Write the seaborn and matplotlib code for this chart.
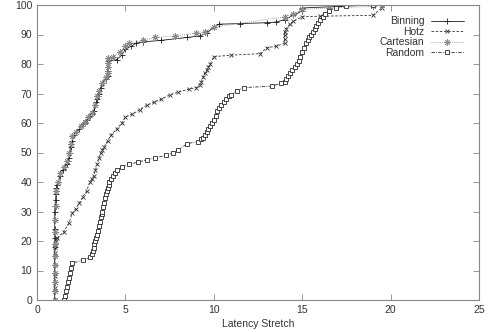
import numpy as np
import pandas as pd
import matplotlib
matplotlib.use("Agg")
import matplotlib.pyplot as plt
import seaborn as sns

# CDF of latency stretch
binning_x = [1.0, 1.0, 1.0, 1.0, 1.0, 1.0, 1.0, 1.0, 1.0, 1.0, 1.0, 1.02, 1.05, 1.08, 1.1,
             1.15, 1.2, 1.3, 1.45, 1.6, 1.7, 1.75, 1.8, 1.85, 1.9, 2.0, 2.1, 2.2, 2.4, 2.6,
             2.7, 2.8, 3.0, 3.1, 3.2, 3.3, 3.35, 3.4, 3.45, 3.5, 3.6, 3.75, 3.9, 4.0, 4.0,
             4.0, 4.0, 4.5, 4.8, 5.0, 5.3, 5.6, 6.0, 7.0, 8.5, 9.2, 9.6, 10.0, 10.3, 11.5,
             13.0, 13.5, 14.0, 14.5, 15.0, 15.0, 17.0, 19.0]
binning_y = [0, 3, 6, 9, 12, 15, 18, 21, 24, 27, 30, 32, 34, 36, 38,
             39, 40, 42, 44, 45, 46, 47, 48, 50, 52, 54, 56, 57, 58, 59.5,
             60, 61, 62.5, 63, 64, 66, 67, 68, 69, 70, 72, 73.5, 75, 76, 77.5,
             79, 81, 81.5, 83, 85, 86, 87, 87.5, 88, 89, 89.5, 90.5, 92.5, 93.5, 93.7,
             94, 94.2, 95, 96.5, 98, 99, 99.5, 100]

hotz_x = [1.0, 1.0, 1.0, 1.0, 1.0, 1.0, 1.05, 1.13, 1.5, 1.8, 2.0, 2.2, 2.4, 2.6, 2.8,
          3.0, 3.1, 3.2, 3.3, 3.4, 3.5, 3.6, 3.7, 3.8, 4.0, 4.2, 4.5, 4.8, 5.0, 5.4,
          5.8, 6.2, 6.6, 7.0, 7.5, 8.0, 8.6, 9.0, 9.2, 9.3, 9.4, 9.5, 9.6, 9.7, 9.8,
          10.0, 11.0, 12.6, 13.0, 13.5, 14.0, 14.0, 14.0, 14.0, 14.1, 14.3, 14.5, 15.0,
          16.0, 19.0, 19.5]
hotz_y = [0, 4, 8, 12, 16, 18, 20, 21, 23, 26, 29.5, 31, 33, 35, 37,
          40, 41, 42, 44, 46, 48, 50, 51, 52, 54, 56, 58, 60, 62, 63,
          64.5, 66, 67, 68, 69.5, 70.5, 71.5, 72, 73, 74, 75.5, 77, 78, 79, 80,
          82.5, 83, 83.5, 85.5, 86, 87, 88.5, 90, 91, 92, 93.5, 94.5, 96,
          96.2, 96.5, 99]

cartesian_x = [1.0, 1.0, 1.0, 1.0, 1.0, 1.0, 1.0, 1.0, 1.0, 1.05, 1.1, 1.2, 1.3, 1.5, 1.7,
               1.8, 1.9, 2.0, 2.2, 2.5, 2.7, 2.9, 3.1, 3.3, 3.4, 3.5, 3.7, 3.9, 4.0, 4.0,
               4.0, 4.0, 4.3, 4.7, 5.0, 5.2, 6.0, 6.7, 7.8, 9.0, 9.5, 10.0, 14.0, 14.5,
               15.0, 16.5, 19.0, 19.5]
cartesian_y = [0, 3, 6, 9, 12, 15, 19, 23, 27, 32, 37, 40, 43, 45, 47,
               50, 53, 55.5, 57, 59, 60.5, 62, 63.5, 66, 69, 71, 73.5, 75.5, 77, 79,
               80.5, 82, 82.5, 84, 86, 87, 88, 89, 89.5, 90.5, 91, 92.5, 96, 97,
               98.5, 99, 99.5, 100]

random_x = [1.5, 1.6, 1.65, 1.7, 1.75, 1.8, 1.85, 1.9, 2.0, 2.6, 3.0, 3.1, 3.15, 3.2, 3.25,
            3.3, 3.35, 3.4, 3.45, 3.5, 3.55, 3.6, 3.65, 3.7, 3.75, 3.8, 3.85, 3.9, 3.95, 4.0,
            4.05, 4.1, 4.2, 4.3, 4.4, 4.5, 4.8, 5.2, 5.7, 6.2, 6.7, 7.3, 7.7, 8.0, 8.5,
            9.1, 9.3, 9.4, 9.5, 9.6, 9.7, 9.8, 9.9, 10.0, 10.1, 10.2, 10.3, 10.4, 10.55,
            10.7, 10.85, 11.0, 11.3, 11.7, 13.3, 13.8, 14.0, 14.1, 14.2, 14.3, 14.45, 14.6,
            14.7, 14.8, 14.9, 15.0, 15.1, 15.2, 15.3, 15.4, 15.5, 15.6, 15.7, 15.8, 15.9,
            16.0, 16.15, 16.3, 16.5, 16.9, 17.5, 19.0]
random_y = [0, 1.5, 3, 4.5, 6, 7.5, 9, 11, 12.5, 13.5, 14.5, 15.5, 16.5, 17.5, 19,
            20, 21, 22, 23.5, 25, 26.5, 28, 29, 30, 31.5, 33, 34.5, 36, 37, 38,
            39, 40, 41, 42, 43, 44, 45, 46, 46.7, 47.5, 48.2, 49, 50, 51, 53,
            53.7, 54.5, 55, 56, 57, 58, 59, 60, 61, 62.5, 64, 65, 66, 67,
            68, 69, 69.5, 71, 72, 72.5, 73.5, 74, 75, 76, 77, 78, 79,
            80, 81, 82.5, 84, 85.5, 87, 88, 89, 90, 91, 92, 93, 94,
            95, 96, 97, 98, 99, 99.8, 100]

series = ["Binning", "Hotz", "Cartesian", "Random"]
xs = [binning_x, hotz_x, cartesian_x, random_x]
ys = [binning_y, hotz_y, cartesian_y, random_y]

df = pd.concat([pd.DataFrame({"x": x, "y": y, "s": s})
                for s, x, y in zip(series, xs, ys)])

sns.set_style("ticks")
plt.rcParams["font.family"] = ["Liberation Sans", "DejaVu Sans"]

fig = plt.figure(figsize=(4.9, 3.32), dpi=100)
ax = fig.add_axes([37 / 490, 32 / 332, 442 / 490, 295 / 332])

styles = {
    "Binning": dict(color="#1a1a1a", linestyle="-", marker="+", markersize=4.5,
                    markerfacecolor="none"),
    "Hotz": dict(color="#333333", linestyle=(0, (3, 2)), marker="x", markersize=3.5,
                 markerfacecolor="none"),
    "Cartesian": dict(color="#8a8a8a", linestyle=(0, (1, 1.5)), marker=(8, 2, 0),
                      markersize=4.5, markerfacecolor="none"),
    "Random": dict(color="#2a2a2a", linestyle=(0, (4, 1.5, 1, 1.5)), marker="s",
                   markersize=3.2, markerfacecolor="white"),
}

for s in series:
    d = df[df["s"] == s]
    st = styles[s]
    sns.lineplot(data=d, x="x", y="y", ax=ax, sort=False, estimator=None,
                 label=s, lw=0.6, markeredgewidth=0.6,
                 markeredgecolor=st["color"], **st)

ax.set_xlim(0, 25)
ax.set_ylim(0, 100)
ax.set_xticks(range(0, 26, 5))
ax.set_yticks(range(0, 101, 10))
ax.tick_params(direction="in", length=4, width=0.6, colors="#888888",
               labelcolor="#333333", labelsize=7.5, top=True, right=True)
for sp in ax.spines.values():
    sp.set_color("#888888")
    sp.set_linewidth(0.8)

ax.set_xlabel("Latency Stretch", fontsize=7.5, color="#333333", labelpad=3)
ax.set_ylabel("Percentage of Pairs", fontsize=7.5, color="#333333")
ax.yaxis.set_label_coords(-0.088, 0.5)

leg = ax.legend(loc="upper right", frameon=False, markerfirst=False, fontsize=7.5,
                handlelength=3.2, handletextpad=0.6, labelspacing=0.05,
                borderaxespad=0.4, bbox_to_anchor=(0.985, 0.99))
for t in leg.get_texts():
    t.set_color("#333333")

fig.savefig("out.png", dpi=100)
